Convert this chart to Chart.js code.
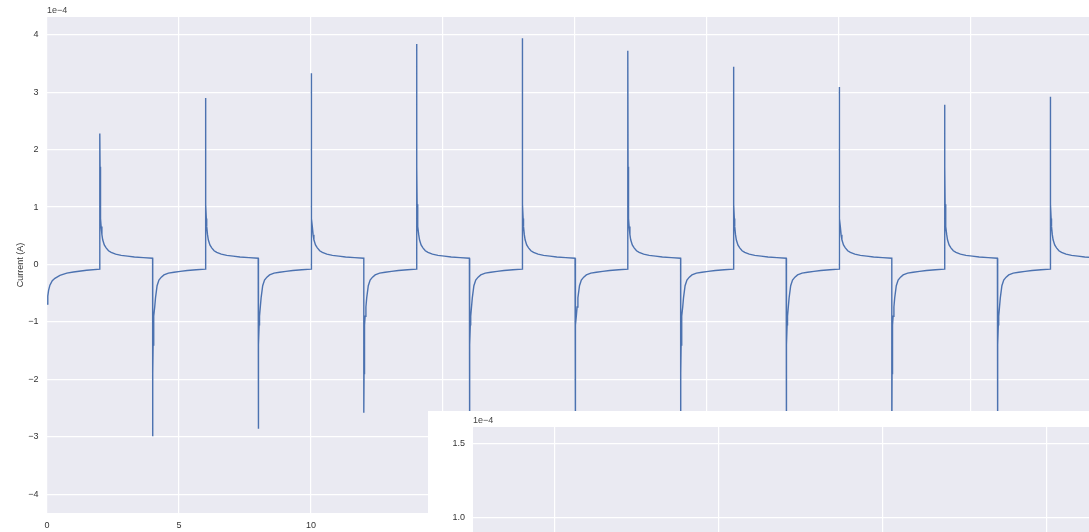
<!DOCTYPE html>
<html>
<head>
<meta charset="utf-8">
<script src="https://cdn.jsdelivr.net/npm/chart.js@4.4.0/dist/chart.umd.min.js"></script>
<style>
  html, body { margin: 0; padding: 0; background: #ffffff; }
  body { position: relative; width: 1089px; height: 532px; overflow: hidden; }
  #mainChart { position: absolute; left: 0; top: 0; }
  #insetChart { position: absolute; left: 428px; top: 411px; background: #ffffff; }
</style>
</head>
<body>
<canvas id="mainChart" width="1103" height="532"></canvas>
<canvas id="insetChart" width="700" height="275"></canvas>
<script>
// current values are in units of 1e-4 A, time in s
const peakTimes = [2, 6, 10, 14, 18, 22, 26, 30, 34, 38];
const peakValues = [2.28, 2.90, 3.33, 3.84, 3.94, 3.72, 3.44, 3.09, 2.78, 2.92];
const troughTimes = [4, 8, 12, 16, 20, 24, 28, 32, 36];
const troughValues = [-2.99, -2.86, -2.58, -3.35, -3.94, -3.62, -3.40, -3.20, -3.05];

// start of the trace (t = 0 .. 2)
const startOffsets = [0, 0.03, 0.06, 0.11, 0.2, 0.3, 0.49, 0.75, 1.0, 1.5, 2.0];
const startValues = [-0.69, -0.55, -0.45, -0.36, -0.28, -0.24, -0.19, -0.15, -0.13, -0.10, -0.08];

// shape after each switch (offset from the spike)
const tailOffsets = [0.01, 0.02, 0.035, 0.05, 0.08, 0.11, 0.17, 0.24, 0.33, 0.43, 0.6, 0.81, 1.05, 1.31, 1.65, 2.0];
const decayValues = [1.70, 1.05, 0.80, 0.66, 0.52, 0.43, 0.34, 0.29, 0.24, 0.21, 0.18, 0.16, 0.145, 0.13, 0.12, 0.11];
const recoveryValues = [-1.90, -1.40, -1.05, -0.90, -0.74, -0.58, -0.37, -0.27, -0.22, -0.18, -0.15, -0.135, -0.12, -0.105, -0.09, -0.08];

const xTicks = [0, 5, 10, 15, 20, 25, 30, 35];
const yTicks = [-4, -3, -2, -1, 0, 1, 2, 3, 4];
const insetXTicks = [2.5, 3.0, 3.5, 4.0];
const insetYTicks = [0.0, 0.5, 1.0, 1.5];

function buildSeries() {
  const pts = [];
  startOffsets.forEach((dt, i) => pts.push({ x: dt, y: startValues[i] }));
  peakTimes.forEach((t, k) => {
    pts.push({ x: t, y: peakValues[k] });
    tailOffsets.forEach((dt, i) => pts.push({ x: t + dt, y: decayValues[i] }));
    if (k < troughTimes.length) {
      const t2 = troughTimes[k];
      pts.push({ x: t2, y: troughValues[k] });
      tailOffsets.forEach((dt, i) => pts.push({ x: t2 + dt, y: recoveryValues[i] }));
    }
  });
  return pts;
}
const series = buildSeries();

const FONT = '"Liberation Sans", Arial, sans-serif';
const minus = v => (v < 0 ? '\u2212' + Math.abs(v) : String(v));

// grey panel + "1e−4" offset text
const panel = {
  id: 'panel',
  beforeDraw(chart) {
    const { ctx, chartArea: a } = chart;
    ctx.save();
    ctx.fillStyle = '#EAEAF2';
    ctx.fillRect(a.left, a.top, a.right - a.left, a.bottom - a.top);
    ctx.restore();
  },
  afterDraw(chart) {
    const { ctx, chartArea: a } = chart;
    ctx.save();
    ctx.font = '9px ' + FONT;
    ctx.fillStyle = '#444';
    ctx.textBaseline = 'middle';
    ctx.textAlign = 'left';
    ctx.fillText('1e\u22124', a.left, a.top - 6);
    ctx.restore();
  }
};

function lineDataset() {
  return {
    data: series,
    borderColor: '#4C72B0',
    borderWidth: 1.4,
    pointRadius: 0,
    fill: false,
    tension: 0
  };
}

const grid = { color: '#ffffff', lineWidth: 1.2, drawTicks: false };

new Chart(document.getElementById('mainChart'), {
  type: 'line',
  data: { datasets: [lineDataset()] },
  plugins: [panel],
  options: {
    responsive: false,
    animation: false,
    events: [],
    layout: { padding: { top: 17, left: 0, right: 0, bottom: 0 } },
    plugins: { legend: { display: false }, tooltip: { enabled: false } },
    scales: {
      x: {
        type: 'linear', min: 0, max: 40,
        border: { display: false },
        grid: grid,
        afterBuildTicks: s => { s.ticks = xTicks.map(v => ({ value: v })); },
        afterFit: s => { s.height = 19; },
        ticks: { color: '#333', font: { family: FONT, size: 9 }, padding: 7, maxRotation: 0 }
      },
      y: {
        type: 'linear', min: -4.325, max: 4.308,
        border: { display: false },
        grid: grid,
        afterBuildTicks: s => { s.ticks = yTicks.map(v => ({ value: v })); },
        afterFit: s => { s.width = 47; },
        ticks: { color: '#333', font: { family: FONT, size: 9 }, padding: 8.5, callback: v => minus(v) },
        title: {
          display: true, text: 'Current (A)', color: '#333',
          font: { family: FONT, size: 9 }, padding: { top: 15.3, bottom: 0 }
        }
      }
    }
  }
});

new Chart(document.getElementById('insetChart'), {
  type: 'line',
  data: { datasets: [lineDataset()] },
  plugins: [panel],
  options: {
    responsive: false,
    animation: false,
    events: [],
    layout: { padding: { top: 16, left: 0, right: 0, bottom: 0 } },
    plugins: { legend: { display: false }, tooltip: { enabled: false } },
    scales: {
      x: {
        type: 'linear', min: 2.25, max: 4.25,
        border: { display: false },
        grid: grid,
        afterBuildTicks: s => { s.ticks = insetXTicks.map(v => ({ value: v })); },
        afterFit: s => { s.height = 20; },
        ticks: { color: '#333', font: { family: FONT, size: 9 }, padding: 7, callback: v => v.toFixed(1) }
      },
      y: {
        type: 'linear', min: 0, max: 1.612,
        border: { display: false },
        grid: grid,
        afterBuildTicks: s => { s.ticks = insetYTicks.map(v => ({ value: v })); },
        afterFit: s => { s.width = 45; },
        ticks: { color: '#333', font: { family: FONT, size: 9 }, padding: 8, callback: v => v.toFixed(1) }
      }
    }
  }
});
</script>
</body>
</html>
